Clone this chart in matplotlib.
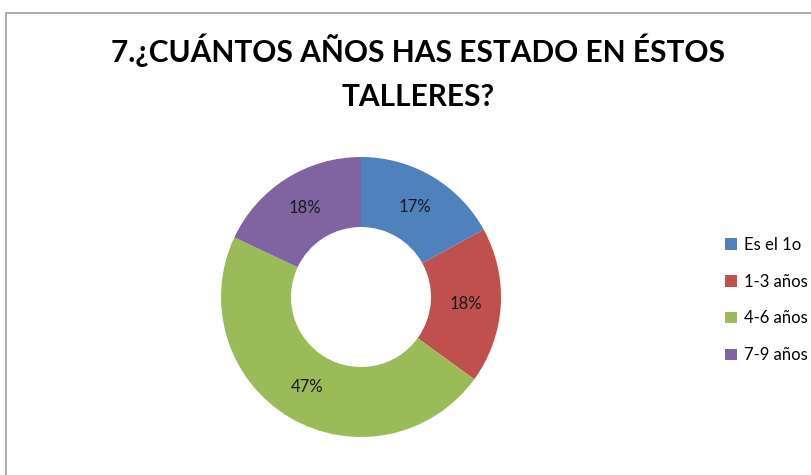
import matplotlib.pyplot as plt
from matplotlib.patches import Rectangle, Patch

# Survey answers: years spent in the workshops
categorias = ["Es el 1o", "1-3 años", "4-6 años", "7-9 años"]
porcentajes = [17, 18, 47, 18]
colores = ["#4F81BD", "#C0504D", "#9BBB59", "#8064A2"]

W, H = 812, 475
fig = plt.figure(figsize=(W / 100, H / 100), dpi=100)

# chart area frame (runs off the right and bottom edges)
fig.patches.append(Rectangle((5.5 / W, -0.1), 1.2, 1 - 12.5 / H + 0.1,
                             transform=fig.transFigure, fill=False,
                             edgecolor="#A0A0A0", linewidth=1.2))

fig.text(418 / W, 1 - 50 / H, "7.¿CUÁNTOS AÑOS HAS ESTADO EN ÉSTOS",
         ha="center", va="center", fontsize=21.5, fontweight="bold",
         family="Lato", color="#000000")
fig.text(418 / W, 1 - 97 / H, "TALLERES?",
         ha="center", va="center", fontsize=21.5, fontweight="bold",
         family="Lato", color="#000000")

# donut centred at (361, 297) px, outer radius 140 px
cx, cy, r = 361, 297, 140
ax = fig.add_axes([(cx - r) / W, (H - cy - r) / H, 2 * r / W, 2 * r / H])
wedges, _, textos = ax.pie(porcentajes, colors=colores, startangle=90,
                           counterclock=False, radius=1,
                           autopct=lambda p: f"{p:.0f}%", pctdistance=0.75,
                           wedgeprops=dict(width=0.5, linewidth=0),
                           textprops=dict(fontsize=12, family="Lato",
                                          color="#1a1a1a"))
ax.set_xlim(-1, 1)
ax.set_ylim(-1, 1)
ax.set_aspect("equal")
ax.axis("off")

handles = [Patch(facecolor=c, edgecolor="none") for c in colores]
fig.legend(handles, categorias, loc="center left",
           bbox_to_anchor=(710 / W, 1 - 300 / H), frameon=False,
           handlelength=0.7, handleheight=0.7, handletextpad=0.45,
           labelspacing=1.25, prop=dict(family="Lato", size=12))

fig.savefig("out.png", dpi=100)
